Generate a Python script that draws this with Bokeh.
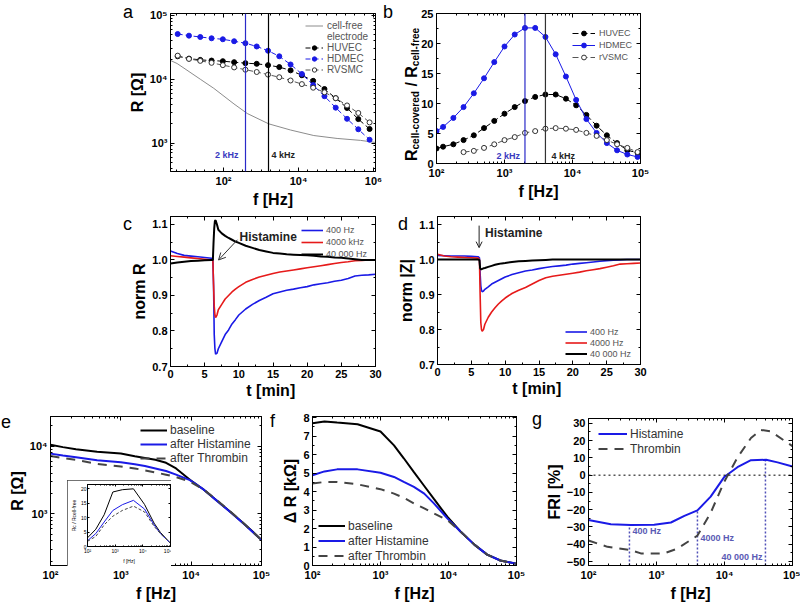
import math
from bokeh.plotting import figure
from bokeh.models import (Range1d, FixedTicker, CustomJSTickFormatter, LinearAxis, LogAxis, Span,
                          Label, Legend, LegendItem, Arrow, OpenHead, GridBox, Div)
from bokeh.embed import file_html
from bokeh.resources import INLINE

FONT = "Liberation Sans"
BLUE = "#1a1ae6"
RED = "#e61a1a"
GRAYL = "#444444"

# ---------------- panel a : R vs f ----------------
a_freq = [6, 12, 24, 48, 96, 192, 384, 768, 1540, 3070, 6140, 12300, 24600, 49200, 98300, 197000, 393000, 786000]
a_huvec = [22860, 21040, 20080, 19600, 19150, 18480, 17840, 17420, 16610, 15480, 13750, 11520, 9430, 7020, 5040, 3540, 2370, 1660]
a_hdmec = [51030, 48100, 45860, 43750, 42230, 39340, 36660, 32570, 27940, 22860, 17010, 12080, 8085, 5412, 3580, 2396, 1642, 1125]
a_rvsmc = [23400, 20800, 19380, 18050, 16610, 15300, 14080, 12970, 11800, 10740, 9540, 8380, 7355, 6240, 5040, 3880, 2955, 2105]
a_free_f = [3.9, 5.8, 24, 55, 190, 430, 1600, 6100, 25600, 107000, 450000, 1130000]
a_free_r = [19600, 17600, 10000, 7200, 4100, 2900, 2000, 1600, 1310, 1180, 1100, 1020]
a_mark_f = [386, 1585]          # "2 kHz" / "4 kHz" lines, where drawn on this axis
a_mark_txt = ["2 kHz", "4 kHz"]

# ---------------- panel b : ratio vs f ----------------
b_freq = [100, 125, 177, 250, 354, 500, 707, 1000, 1414, 2000, 2828, 4000, 5657, 8000, 11314, 16000, 22627, 32000, 45255, 64000, 90510]
b_hdmec = [5.4, 6.1, 7.6, 9.4, 11.7, 14.2, 16.9, 19.5, 21.5, 22.6, 22.6, 21.1, 18.2, 14.5, 10.6, 7.4, 5.1, 3.4, 2.2, 1.5, 1.1]
b_huvec = [2.5, 2.8, 3.2, 3.9, 4.7, 5.9, 7.1, 8.3, 9.4, 10.4, 11.1, 11.5, 11.5, 10.8, 9.7, 8.1, 6.3, 4.7, 3.4, 2.2, 1.8]
b_rvsmc_f = [250, 354, 500, 707, 1000, 1414, 2000, 2828, 4000, 5657, 8000, 11314, 16000, 22627, 32000, 45255, 64000, 90510]
b_rvsmc = [1.9, 2.1, 2.6, 3.2, 3.9, 4.4, 5.1, 5.4, 5.8, 5.9, 5.8, 5.6, 5.1, 4.6, 3.9, 3.2, 2.6, 1.9]
b_mark_f = [2000, 4000]
b_mark_txt = ["2 kHz", "4 kHz"]

# ---------------- panels c, d : time courses ----------------
t_min = [0, 1, 2, 3, 4, 5, 6, 6.2, 6.3, 6.4, 6.5, 6.6, 6.8, 7, 7.5, 8, 8.5, 9, 9.5, 10,
         11, 12, 13, 14, 15, 16, 17, 18, 19, 20, 21, 22, 23, 24, 25, 26, 27, 28, 29, 30]
c_400 = [1.025, 1.018, 1.013, 1.011, 1.009, 1.007, 1.005, 1.003, 0.93, 0.79, 0.75, 0.735, 0.737,
         0.75, 0.77, 0.79, 0.803, 0.82, 0.832, 0.845,
         0.862, 0.875, 0.886, 0.895, 0.905, 0.91, 0.915, 0.918, 0.922, 0.925, 0.93, 0.933, 0.936, 0.94,
         0.943, 0.948, 0.955, 0.957, 0.958, 0.96]
c_4000 = [1.012, 1.01, 1.008, 1.006, 1.004, 1.002, 1.0, 1.0, 0.93, 0.87, 0.845, 0.838, 0.845,
          0.86, 0.875, 0.89, 0.9, 0.91, 0.918, 0.925,
          0.937, 0.945, 0.952, 0.957, 0.962, 0.966, 0.969, 0.972, 0.975, 0.978, 0.981, 0.984, 0.987,
          0.99, 0.993, 0.995, 0.998, 0.999, 1.0, 1.0]
c_40000 = [0.99, 0.993, 0.995, 0.997, 0.998, 0.999, 1.0, 1.0, 1.05, 1.09, 1.11, 1.112, 1.1,
           1.085, 1.075, 1.068, 1.062, 1.057, 1.052, 1.048,
           1.04, 1.034, 1.028, 1.024, 1.02, 1.018, 1.016, 1.015, 1.014, 1.013, 1.012, 1.01, 1.009,
           1.007, 1.006, 1.004, 1.002, 1.0, 1.0, 1.0]
d_400 = [1.012, 1.011, 1.01, 1.01, 1.01, 1.009, 1.008, 1.005, 0.96, 0.925, 0.912, 0.908, 0.91,
         0.915, 0.922, 0.93, 0.935, 0.94, 0.945, 0.95,
         0.957, 0.962, 0.967, 0.97, 0.974, 0.977, 0.98, 0.982, 0.984, 0.987, 0.989, 0.991, 0.993,
         0.995, 0.997, 0.998, 0.999, 1.0, 1.0, 1.0]
d_4000 = [1.015, 1.01, 1.008, 1.007, 1.006, 1.005, 1.004, 1.0, 0.9, 0.82, 0.8, 0.795, 0.8,
          0.815, 0.835, 0.85, 0.862, 0.873, 0.882, 0.89,
          0.903, 0.912, 0.92, 0.93, 0.94, 0.948, 0.952, 0.955, 0.958, 0.961, 0.964, 0.968, 0.971,
          0.974, 0.978, 0.982, 0.987, 0.988, 0.989, 0.99]
d_40000 = [1.0, 1.0, 1.0, 1.0, 1.0, 1.0, 1.0, 0.998, 0.975, 0.972, 0.972, 0.973, 0.975,
           0.976, 0.979, 0.982, 0.985, 0.987, 0.989, 0.99,
           0.993, 0.995, 0.996, 0.997, 0.998, 0.999, 1.0, 1.0, 1.0, 1.0, 1.0, 1.0, 1.0,
           1.0, 1.0, 1.0, 1.0, 1.0, 1.0, 1.0]
cd_labels = ["400 Hz", "4000 kHz", "40 000 Hz"]
d_labels = ["400 Hz", "4000 Hz", "40 000 Hz"]

# ---------------- panels e, f ----------------
ef_freq = [100, 150, 230, 460, 1000, 1580, 2200, 3100, 4400, 6100, 9600, 15000, 24000, 37000, 58000, 100000]
e_base = [10500, 9700, 9000, 8300, 7800, 7100, 6700, 6300, 5700, 4700, 3200, 2300, 1530, 1050, 700, 415]
e_hist = [7780, 7300, 6900, 6200, 5800, 5400, 5100, 4700, 4300, 3800, 3150, 2300, 1520, 1040, 690, 410]
e_thr = [7200, 6700, 6300, 5500, 5000, 4700, 4400, 4100, 3800, 3500, 3000, 2300, 1550, 1060, 700, 410]
f_base = [7.70, 7.79, 7.73, 7.64, 7.25, 6.50, 5.80, 5.05, 4.30, 3.60, 2.64, 1.84, 1.13, 0.59, 0.27, 0.09]
f_hist = [4.88, 5.09, 5.20, 5.20, 5.02, 4.79, 4.52, 4.25, 3.89, 3.36, 2.55, 1.84, 1.13, 0.59, 0.27, 0.09]
f_thr = [4.43, 4.52, 4.52, 4.39, 4.13, 3.89, 3.66, 3.36, 3.09, 2.82, 2.46, 1.84, 1.13, 0.59, 0.27, 0.09]
ef_labels = ["baseline", "after Histamine", "after Thrombin"]

# inset of panel e
in_f = [100, 200, 400, 824, 1820, 4580, 11500, 25500, 43000, 100000]
in_base = [3.0, 6.0, 11.0, 18.9, 19.7, 20.0, 14.6, 8.1, 4.9, 1.1]
in_hist = [2.0, 4.5, 8.5, 12.5, 14.5, 16.0, 13.0, 7.5, 4.5, 1.1]
in_thr = [1.8, 3.5, 7.5, 10.5, 12.5, 14.0, 12.0, 7.0, 4.5, 1.1]

# ---------------- panel g : FRI ----------------
g_f_hist = [100, 213, 418, 925, 1630, 2570, 4000, 6260, 9890, 15500, 24500, 40900, 60300, 100000]
g_hist = [-25.9, -28.4, -28.9, -28.7, -27.4, -23.6, -20.4, -12.4, -1.1, 4.6, 8.7, 8.9, 7.4, 5.0]
g_f_thr = [100, 190, 418, 588, 1290, 2030, 4000, 6260, 9890, 15500, 24500, 34200, 47800, 100000]
g_thr = [-37.8, -41.5, -43.4, -45.3, -45.3, -42.5, -35.0, -21.8, -3.9, 10.2, 21.5, 26.2, 25.3, 16.8]
g_mark_f = [400, 4000, 40000]
g_mark_v = [-28.9, -20.4, 8.9]
g_mark_txt = ["400 Hz", "4000 Hz", "40 000 Hz"]
g_mark_txt_v = [-32.5, -36.5, -47.2]

panel_letters = ["a", "b", "c", "d", "e", "f", "g"]

SUP_JS = """
const m = {"0":"\u2070","1":"\u00b9","2":"\u00b2","3":"\u00b3","4":"\u2074","5":"\u2075","6":"\u2076","7":"\u2077","8":"\u2078","9":"\u2079","-":"\u207b"};
const e = Math.round(Math.log10(tick));
return "10" + String(e).split("").map(c => m[c]).join("");
"""


def sup_fmt():
    return CustomJSTickFormatter(code=SUP_JS)


def log_minor(lo, hi):
    return [m * 10.0 ** k for k in range(lo, hi) for m in range(2, 10)]


def make_fig(w, h, border, xr, yr, xlog=False, ylog=False):
    l, r, t, b = border
    p = figure(width=w, height=h, x_range=Range1d(*xr), y_range=Range1d(*yr),
               x_axis_type="log" if xlog else "linear", y_axis_type="log" if ylog else "linear",
               output_backend="svg", toolbar_location=None,
               min_border_left=l, min_border_right=r, min_border_top=t, min_border_bottom=b)
    try:
        p.frame_align = False
    except Exception:
        pass
    p.xgrid.visible = False
    p.ygrid.visible = False
    p.outline_line_color = "black"
    p.background_fill_color = "white"
    p.border_fill_color = "white"
    return p


def style(p, xt, xm, yt, ym, xlab, ylab, xlog=False, ylog=False, tick_px=11, lab_px=16,
          yfmt=None, tick_in=4, std=3, bold=True):
    xtk = FixedTicker(ticks=xt, minor_ticks=xm)
    ytk = FixedTicker(ticks=yt, minor_ticks=ym)
    xa, ya = p.xaxis[0], p.yaxis[0]
    xa.ticker = xtk
    ya.ticker = ytk
    if xlog:
        xa.formatter = sup_fmt()
    if ylog:
        ya.formatter = sup_fmt()
    if yfmt is not None:
        ya.formatter = yfmt
    xa.axis_label = xlab
    ya.axis_label = ylab
    for ax in (xa, ya):
        ax.major_label_text_font = FONT
        ax.major_label_text_font_style = "bold" if bold else "normal"
        ax.major_label_text_font_size = f"{tick_px}px"
        ax.major_label_text_color = "black"
        ax.axis_label_text_font = FONT
        ax.axis_label_text_font_style = "bold" if bold else "normal"
        ax.axis_label_text_font_size = f"{lab_px}px"
        ax.axis_label_text_color = "black"
        ax.major_tick_in = tick_in
        ax.major_tick_out = 0
        ax.minor_tick_in = max(1, tick_in // 2)
        ax.minor_tick_out = 0
        ax.major_label_standoff = std
        ax.axis_label_standoff = 1
        ax.axis_line_color = "black"
    for place, tk, log in (("above", xtk, xlog), ("right", ytk, ylog)):
        Ax = LogAxis if log else LinearAxis
        ax = Ax(ticker=tk, formatter=CustomJSTickFormatter(code="return ''"),
                major_tick_in=tick_in, major_tick_out=0, minor_tick_in=max(1, tick_in // 2),
                minor_tick_out=0, major_label_standoff=0, major_label_text_font_size="0px",
                axis_line_color="black")
        p.add_layout(ax, place)


def lab(p, text, x, y, size, color="black", bold=False, align="left", baseline="alphabetic",
        xu="data", yu="data", xoff=0):
    p.add_layout(Label(x=x, y=y, x_units=xu, y_units=yu, text=text, text_font=FONT,
                       text_font_size=f"{size}px", text_color=color,
                       text_font_style="bold" if bold else "normal",
                       text_align=align, text_baseline=baseline, x_offset=xoff))


def legend(p, items, loc, size, color, row_h, glyph_w, standoff=4):
    leg = Legend(items=[LegendItem(label=t, renderers=rs) for t, rs in items], location=loc,
                 label_text_font=FONT, label_text_font_size=f"{size}px", label_text_color=color,
                 label_height=row_h, glyph_height=row_h, glyph_width=glyph_w, label_standoff=standoff,
                 spacing=0, padding=0, margin=0, border_line_alpha=0, background_fill_alpha=0)
    p.add_layout(leg)


# ====================== panel a ======================
pa = make_fig(395, 210, (170, 20, 13, 36), (3.86, 1.13e6), (358, 1.07e5), True, True)
style(pa, [1e2, 1e4, 1e6], [10 ** (k / 4) for k in range(3, 25) if k % 8 != 0],
      [1e3, 1e4, 1e5], log_minor(2, 5), "f [Hz]", "R [Ω]", True, True)
r_free = pa.line(a_free_f, a_free_r, line_color="#8c8c8c", line_width=1)
r_void = pa.line([], [], line_alpha=0)
l_hu = pa.line(a_freq, a_huvec, line_color="black", line_dash="5 3", line_width=1)
s_hu = pa.scatter(a_freq, a_huvec, marker="circle", size=5, fill_color="black", line_color="black")
l_hd = pa.line(a_freq, a_hdmec, line_color=BLUE, line_dash="5 3", line_width=1)
s_hd = pa.scatter(a_freq, a_hdmec, marker="circle", size=5, fill_color=BLUE, line_color=BLUE)
l_rv = pa.line(a_freq, a_rvsmc, line_color="#555555", line_dash="5 3", line_width=1)
s_rv = pa.scatter(a_freq, a_rvsmc, marker="circle", size=5, fill_color="white", line_color="#333333")
for f, txt, col, al, off in zip(a_mark_f, a_mark_txt, ["#2a2ac8", "black"], ["right", "left"], [-7, 3]):
    pa.add_layout(Span(location=f, dimension="height", line_color=col, line_width=1.2))
    lab(pa, txt, f, 17, 9, color="#3a3ac0" if col != "black" else "#222222", bold=True, align=al,
        baseline="middle", yu="screen", xoff=off)
legend(pa, [("cell-free", [r_free]), ("electrode", [r_void]), ("HUVEC", [l_hu, s_hu]),
            ("HDMEC", [l_hd, s_hd]), ("RVSMC", [l_rv, s_rv])], (135, 96), 10, "#555555", 11, 18)

# ====================== panel b ======================
pb = make_fig(405, 210, (41, 160, 13, 47), (100, 1e5), (0, 25), True, False)
style(pb, [1e2, 1e3, 1e4, 1e5], log_minor(2, 5), [0, 5, 10, 15, 20, 25],
      [2.5, 7.5, 12.5, 17.5, 22.5], "f [Hz]", "", True, False)
lb_hu = pb.line(b_freq, b_huvec, line_color="black", line_dash="6 3", line_width=1)
sb_hu = pb.scatter(b_freq, b_huvec, marker="circle", size=5, fill_color="black", line_color="black")
lb_hd = pb.line(b_freq, b_hdmec, line_color=BLUE, line_width=1)
sb_hd = pb.scatter(b_freq, b_hdmec, marker="circle", size=5, fill_color=BLUE, line_color=BLUE)
lb_rv = pb.line(b_rvsmc_f, b_rvsmc, line_color="#555555", line_dash="6 3", line_width=1)
sb_rv = pb.scatter(b_rvsmc_f, b_rvsmc, marker="circle", size=5, fill_color="white", line_color="#333333")
for f, txt, col, al, off in zip(b_mark_f, b_mark_txt, ["#2a2ac8", "#333333"], ["right", "left"], [-5, 6]):
    pb.add_layout(Span(location=f, dimension="height", line_color=col, line_width=1.2))
    lab(pb, txt, f, 8, 9, color="#3a3ac0" if col != "#333333" else "#222222", bold=True, align=al,
        baseline="middle", yu="screen", xoff=off)
legend(pb, [("HUVEC", [lb_hu, sb_hu]), ("HDMEC", [lb_hd, sb_hd]), ("rVSMC", [lb_rv, sb_rv])],
       (136, 100), 9, "#555555", 12, 23)


# ====================== panel c ======================
def fmt1():
    return CustomJSTickFormatter(code="return tick.toFixed(1)")


pc = make_fig(395, 195, (170, 20, 6, 39), (0, 30), (0.7, 1.1225))
style(pc, [0, 5, 10, 15, 20, 25, 30], [2.5, 7.5, 12.5, 17.5, 22.5, 27.5],
      [0.7, 0.8, 0.9, 1.0, 1.1], [0.75, 0.85, 0.95, 1.05], "t  [min]", "norm R", yfmt=fmt1())
rc1 = pc.line(t_min, c_400, line_color=BLUE, line_width=1.6)
rc2 = pc.line(t_min, c_4000, line_color=RED, line_width=1.6)
rc3 = pc.line(t_min, c_40000, line_color="black", line_width=2)
legend(pc, [(cd_labels[0], [rc1]), (cd_labels[1], [rc2]), (cd_labels[2], [rc3])], (131, 106), 9, "#555555", 12, 22, 3)
lab(pc, "Histamine", 10.1, 1.065, 12, bold=True, baseline="middle", color="#222222")
pc.add_layout(Arrow(end=OpenHead(size=7, line_color="#333333", line_width=1), x_start=9.8, y_start=1.057,
                    x_end=7.03, y_end=1.0, line_color="#333333", line_width=1))

# ====================== panel d ======================
pd_ = make_fig(405, 195, (40, 160, 6, 41), (0, 30), (0.7, 1.123))
style(pd_, [0, 5, 10, 15, 20, 25, 30], [2.5, 7.5, 12.5, 17.5, 22.5, 27.5],
      [0.7, 0.8, 0.9, 1.0, 1.1], [0.75, 0.85, 0.95, 1.05], "t  [min]", "norm |Z|", yfmt=fmt1())
rd1 = pd_.line(t_min, d_400, line_color=BLUE, line_width=1.6)
rd2 = pd_.line(t_min, d_4000, line_color=RED, line_width=1.6)
rd3 = pd_.line(t_min, d_40000, line_color="black", line_width=2)
legend(pd_, [(d_labels[0], [rd1]), (d_labels[1], [rd2]), (d_labels[2], [rd3])], (128, 5), 9, "#555555", 11, 22, 3)
lab(pd_, "Histamine", 7.03, 1.077, 12, bold=True, baseline="middle", color="#222222")
pd_.add_layout(Arrow(end=OpenHead(size=6, line_color="#222222", line_width=1), x_start=6.15, y_start=1.097,
                     x_end=6.15, y_end=1.034, line_color="#222222", line_width=1))

# ====================== panel e ======================
pe = make_fig(270, 199, (50, 9, 11, 34), (100, 1e5), (173, 27500), True, True)
style(pe, [1e2, 1e3, 1e4, 1e5], log_minor(2, 5), [1e3, 1e4], log_minor(2, 5),
      "f [Hz]", "R [Ω]", True, True)
re1 = pe.line(ef_freq, e_base, line_color="black", line_width=2)
re2 = pe.line(ef_freq, e_hist, line_color=BLUE, line_width=2)
re3 = pe.line(ef_freq, e_thr, line_color=GRAYL, line_width=2, line_dash="9 7")
legend(pe, [(ef_labels[0], [re1]), (ef_labels[1], [re2]), (ef_labels[2], [re3])], (90, 100), 12, "#333333", 14, 27, 3)

# ====================== panel f ======================
pf = make_fig(260, 199, (42, 14, 11, 38), (100, 1e5), (0, 8.06), True, False)
style(pf, [1e2, 1e3, 1e4, 1e5], log_minor(2, 5), [0, 1, 2, 3, 4, 5, 6, 7, 8],
      [0.5, 1.5, 2.5, 3.5, 4.5, 5.5, 6.5, 7.5], "f [Hz]", "Δ R [kΩ]", True, False)
rf1 = pf.line(ef_freq, f_base, line_color="black", line_width=2)
rf2 = pf.line(ef_freq, f_hist, line_color=BLUE, line_width=2)
rf3 = pf.line(ef_freq, f_thr, line_color=GRAYL, line_width=2, line_dash="9 7")
legend(pf, [(ef_labels[0], [rf1]), (ef_labels[1], [rf2]), (ef_labels[2], [rf3])], (6, 2), 12, "#333333", 15, 27, 3)

# ====================== panel g ======================
pg = make_fig(270, 199, (58, 8, 13, 35), (100, 1e5), (-52.3, 32.8), True, False)
style(pg, [1e2, 1e3, 1e4, 1e5], log_minor(2, 5), [-50, -40, -30, -20, -10, 0, 10, 20, 30],
      [-45, -35, -25, -15, -5, 5, 15, 25], "f [Hz]", "FRI [%]", True, False)
pg.add_layout(Span(location=0, dimension="width", line_color="black", line_width=1, line_dash="2 3"))
pg.segment(x0=g_mark_f, y0=[-52.3] * 3, x1=g_mark_f, y1=g_mark_v, line_color="#5050b8",
           line_width=1.5, line_dash="2 2")
rg1 = pg.line(g_f_hist, g_hist, line_color=BLUE, line_width=2)
rg2 = pg.line(g_f_thr, g_thr, line_color=GRAYL, line_width=2, line_dash="9 7")
for f, txt, v, al, off in zip(g_mark_f, g_mark_txt, g_mark_txt_v, ["left", "left", "right"], [3, 3, -3]):
    lab(pg, txt, f, v, 9, color="#5a5ab4", bold=True, align=al, baseline="middle", xoff=off)
legend(pg, [("Histamine", [rg1]), ("Thrombin", [rg2])], (10, 109), 12, "#333333", 15, 29, 3)

# ====================== inset (in panel e) ======================
pin = make_fig(104, 86, (13, 1, 4, 17), (100, 1e5), (0, 21.5), True, False)
style(pin, [1e2, 1e3, 1e4, 1e5], log_minor(2, 5), [0, 5, 10, 15, 20], [], "f [Hz]", "Rc / Rcell-free",
      True, False, tick_px=5, lab_px=5, tick_in=2, std=1, bold=False)
pin.line(in_f, in_base, line_color="black", line_width=1)
pin.line(in_f, in_hist, line_color=BLUE, line_width=1)
pin.line(in_f, in_thr, line_color=GRAYL, line_width=1, line_dash="3 2")
pin.styles = {"outline": "1px solid #444444", "outline-offset": "-1px"}

# ====================== overlay: panel letters and the b y-axis title ======================
letter_pos = [(123, 2), (383, 2), (123, 214), (398, 214), (1, 412), (270, 411), (532, 409)]
spans = "".join(
    f'<span style="position:absolute;left:{x}px;top:{y}px;font:18px \'Liberation Sans\';'
    f'line-height:20px;color:#000">{t}</span>'
    for t, (x, y) in zip(panel_letters, letter_pos))
ytitle_b = ('<span style="position:absolute;left:403px;top:14px;height:147px;writing-mode:vertical-rl;'
            'transform:rotate(180deg);font:bold 16px \'Liberation Sans\';line-height:18px;'
            'white-space:nowrap;color:#000">R<sub style="font-size:10px">cell-covered</sub> / '
            'R<sub style="font-size:10px">cell-free</sub></span>')
overlay = Div(text=f'<div style="position:relative;width:800px;height:604px">{spans}{ytitle_b}</div>',
              width=800, height=604, margin=(0, 0, 0, 0), styles={"pointer-events": "none"})

grid = GridBox(children=[(pa, 0, 0, 1, 4), (pb, 0, 4, 1, 2), (pc, 1, 0, 1, 4), (pd_, 1, 4, 1, 2),
                         (pe, 2, 0, 2, 3), (pf, 2, 3, 2, 2), (pg, 2, 5, 2, 1), (pin, 3, 1, 1, 1),
                         (overlay, 0, 0, 4, 6)],
               rows=["210px", "195px", "75px", "124px"],
               cols=["67px", "104px", "99px", "125px", "135px", "270px"])

open("out.html", "w").write(file_html(grid, INLINE))
